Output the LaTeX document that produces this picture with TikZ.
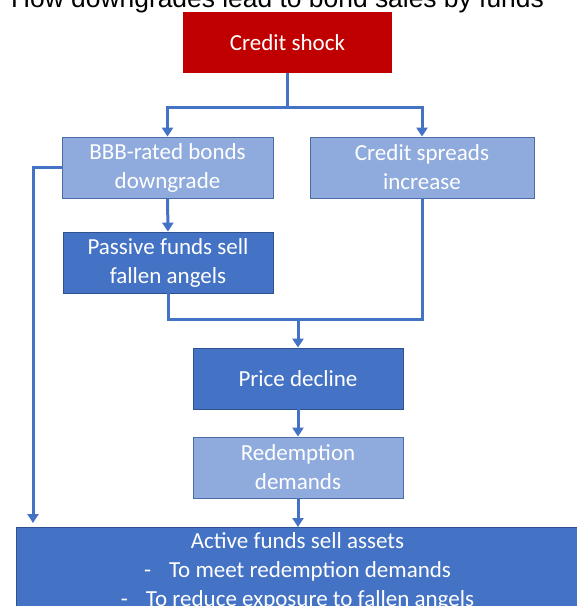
\documentclass[tikz,border=0pt]{standalone}
\usepackage{fontspec}
\setmainfont{Carlito}
\newfontfamily\titlefont{Liberation Sans}
\usetikzlibrary{arrows.meta}
\definecolor{shockred}{HTML}{C00000}
\definecolor{darkblue}{HTML}{4472C4}
\definecolor{lightblue}{HTML}{8FAADC}
\definecolor{edgeblue}{HTML}{2F528F}

\begin{document}
\begin{tikzpicture}[x=1pt,y=-1pt,
  box/.style={rectangle,minimum height=61pt,text=white,align=center,
    font=\fontsize{23}{29}\selectfont,inner sep=2pt},
  lightbox/.style={box,fill=lightblue,draw=edgeblue!70!lightblue,line width=0.8pt},
  darkbox/.style={box,fill=darkblue,draw=edgeblue,line width=0.8pt},
  link/.style={draw=darkblue,line width=3pt},
  arr/.style={link,-{Triangle[width=11pt,length=9pt]}}]
\useasboundingbox (0,0) rectangle (577,606);
\node[font=\titlefont\fontsize{26.4}{30}\selectfont,anchor=base] (title) at (277.5,7) {How downgrades lead to bond sales by funds};
\node[box,fill=shockred,minimum width=209pt] (shock) at (287.5,42.5) {Credit shock};
\node[lightbox,minimum width=211pt] (bbb) at (167.5,167.5) {BBB-rated bonds\\downgrade};
\node[lightbox,minimum width=224pt] (spread) at (422,167.5) {Credit spreads\\increase};
\node[darkbox,minimum width=210pt] (passive) at (168,262.5) {Passive funds sell\\fallen angels};
\node[darkbox,minimum width=210pt] (price) at (298,378.5) {Price decline};
\node[lightbox,minimum width=210pt] (redeem) at (298,467.5) {Redemption\\demands};
\node[darkbox,minimum width=563pt,anchor=north,inner ysep=5pt] (active) at (297.5,527) {Active funds sell assets\\
  -\hspace{18pt}To meet redemption demands\\
  -\hspace{18pt}To reduce exposure to fallen angels};
\coordinate (split) at (287.5,107);
\coordinate (merge) at (298,319);
\coordinate (leftin) at (33,523);
\draw[link] (shock.south) -- (split);
\draw[arr] (split) -| (bbb.north);
\draw[arr] (split) -| (spread.north);
\draw[arr] (bbb.south) -- (passive.north);
\draw[arr] (bbb.west) -| (leftin);
\draw[link] (passive.south) |- (merge);
\draw[link] (spread.south) |- (merge);
\draw[arr] (merge) -- (price.north);
\draw[arr] (price.south) -- (redeem.north);
\draw[arr] (redeem.south) -- (redeem.south |- active.north);
\end{tikzpicture}
\end{document}
